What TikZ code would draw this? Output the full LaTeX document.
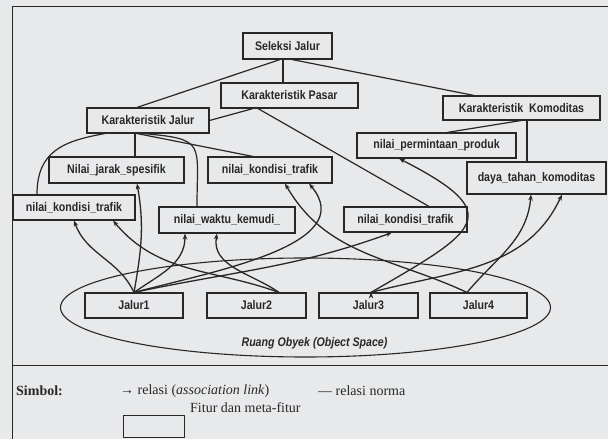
\documentclass[tikz,border=0pt]{standalone}
\usepackage{fontspec}
\usetikzlibrary{arrows.meta, shapes.geometric}
\newfontfamily\diagfont[FakeStretch=0.85]{Liberation Sans}
\newfontfamily\legendfont{Liberation Serif}
\definecolor{paper}{RGB}{232,233,235}
\definecolor{ink}{RGB}{40,40,40}

\begin{document}
\begin{tikzpicture}[x=1pt, y=1pt, >={Stealth[length=6pt, width=4.5pt]},
   fitur/.style={draw=ink, line width=1.1pt, rectangle, minimum height=25pt, inner sep=1pt, text=ink, font=\diagfont\bfseries\fontsize{12.5}{14}\selectfont},
   norma/.style={draw=ink, line width=1.2pt},
   relasi/.style={draw=ink, line width=1.3pt, ->},
   keterangan/.style={anchor=west, inner sep=0pt, text=ink, font=\legendfont\fontsize{14}{16}\selectfont}]

   \useasboundingbox (0,0) rectangle (608,439);
   \fill[paper] (0,0) rectangle (608,439);
   \draw[ink, line width=1pt] (608,432) -- (12.5,432) -- (12.5,0);
   \draw[ink, line width=1pt] (12.5,73) -- (608,73);

   \node[draw=ink, line width=1.1pt, ellipse, minimum width=490pt, minimum height=99pt] (ruang) at (305.5,131.5) {};
   \node[text=ink, font=\diagfont\bfseries\itshape\fontsize{12.5}{14}\selectfont] (ruanglabel) at (314.5,96) {Ruang Obyek (Object Space)};

   \node[fitur, minimum width=89pt, minimum height=26pt] (seleksi) at (287.5,393) {Seleksi Jalur};
   \node[fitur, minimum width=137pt] (pasar) at (289.5,343.5) {Karakteristik Pasar};
   \node[fitur, minimum width=122pt] (kjalur) at (148,318.5) {Karakteristik Jalur};
   \node[fitur, minimum width=157pt, minimum height=24pt] (kkomod) at (521.5,331) {Karakteristik~~Komoditas};
   \node[fitur, minimum width=159pt] (permintaan) at (436.5,293.5) {nilai\_permintaan\_produk};
   \node[fitur, minimum width=135pt, minimum height=26pt] (jarak) at (116.5,269) {Nilai\_jarak\_spesifik};
   \node[fitur, minimum width=124pt, minimum height=26pt] (nkmid) at (270,269) {nilai\_kondisi\_trafik};
   \node[fitur, minimum width=139pt, minimum height=32pt] (daya) at (536.5,261) {daya\_tahan\_komoditas};
   \node[fitur, minimum width=122pt] (nkleft) at (74,231.5) {nilai\_kondisi\_trafik};
   \node[fitur, minimum width=136pt, minimum height=26pt] (waktu) at (227,219) {nilai\_waktu\_kemudi\_};
   \node[fitur, minimum width=123pt] (nkright) at (405.5,219.5) {nilai\_kondisi\_trafik};
   \node[fitur, minimum width=98pt] (jalur1) at (134,133.5) {Jalur1};
   \node[fitur, minimum width=99pt] (jalur2) at (256.5,133.5) {Jalur2};
   \node[fitur, minimum width=99pt] (jalur3) at (368.5,133.5) {Jalur3};
   \node[fitur, minimum width=97pt] (jalur4) at (478.5,133.5) {Jalur4};

   \path[norma]
   ([xshift=-7.5pt]seleksi.south) edge ([xshift=-11pt]kjalur.north)
   ([xshift=-4.5pt]seleksi.south) edge ([xshift=-6.5pt]pasar.north)
   ([xshift=4.5pt]seleksi.south) edge ([xshift=-47.5pt]kkomod.north)
   ([xshift=-36.5pt]pasar.south) edge (kjalur.east)
   ([xshift=-31.5pt]pasar.south) edge ([xshift=23.5pt]nkright.north)
   ([xshift=-13pt]kjalur.south) edge ([xshift=18.5pt]jarak.north)
   ([xshift=-11pt]kjalur.south) edge ([xshift=-17pt]nkmid.north)
   ([xshift=-43pt]kjalur.south) edge[out=190, in=90, looseness=1.2] ([xshift=-37pt]nkleft.north)
   ([xshift=-5pt]kjalur.south) edge[out=-5, in=90, looseness=1.8] ([xshift=-30pt]waktu.north)
   ([xshift=-0.5pt]kkomod.south) edge ([xshift=10.5pt]permintaan.north)
   ([xshift=5.5pt]kkomod.south) edge ([xshift=-9.5pt]daya.north);

   \path[relasi]
   (jalur1.north) edge[out=115, in=-70] (nkleft.south)
   ([xshift=22.5pt]jalur2.north) edge[out=160, in=-50] ([xshift=39pt]nkleft.south)
   (jalur1.north) edge[out=80, in=-80] ([xshift=20.5pt]jarak.south)
   (jalur1.north) edge[out=35, in=-90] ([xshift=-42pt]waktu.south)
   ([xshift=22.5pt]jalur2.north) edge[out=145, in=-100] ([xshift=-10pt]waktu.south)
   ([xshift=-11.5pt]jalur4.north) edge[out=155, in=-60] ([xshift=15pt]nkmid.south)
   (jalur1.north) edge[out=15, in=-50] ([xshift=39pt]nkmid.south)
   (jalur1.north) edge[out=12, in=-160] ([xshift=-13.5pt]nkright.south)
   ([xshift=2.5pt]jalur3.north) edge[out=30, in=-27, looseness=2.3] ([xshift=-37.5pt]permintaan.south)
   ([xshift=-11.5pt]jalur4.north) edge[out=50, in=-95] ([xshift=-5.5pt]daya.south)
   ([xshift=2.5pt]jalur3.north) edge[out=15, in=-115] ([xshift=25.5pt]daya.south);

   \node[keterangan, font=\legendfont\bfseries\fontsize{14}{16}\selectfont] (simbol) at (16,48) {Simbol:};
   \node[keterangan] (relasilabel) at (120,48) {→ relasi (\textit{association link})};
   \node[keterangan] (normalabel) at (318,48) {— relasi norma};
   \node[draw=ink, line width=1pt, minimum width=61pt, minimum height=22pt] (fiturbox) at (153.5,12) {};
   \node[keterangan] (fiturlabel) at (190,31) {Fitur dan meta-fitur};
\end{tikzpicture}
\end{document}
